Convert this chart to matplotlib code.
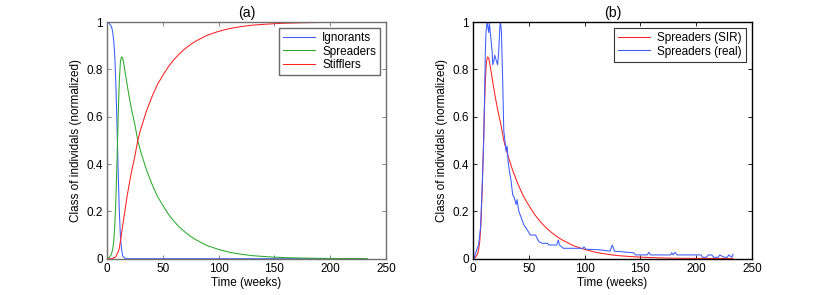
import matplotlib
matplotlib.use("Agg")
import matplotlib.pyplot as plt
from matplotlib.ticker import FuncFormatter

# ---- data ----
# SIR model (panel a and red curve of panel b)
t_sir = [0, 2, 4, 5, 6, 7, 8, 9, 10, 11, 12, 13, 14, 16, 18, 20, 22, 25, 27.5,
         30, 35, 40, 45, 50, 55, 60, 65, 70, 75, 80, 90, 100, 110, 120, 130,
         140, 150, 160, 175, 190, 210, 233]
ignorants = [1.0, 0.995, 0.98, 0.96, 0.92, 0.85, 0.72, 0.55, 0.36, 0.2, 0.09,
             0.04, 0.012, 0.002, 0, 0, 0, 0, 0, 0, 0, 0, 0, 0, 0, 0, 0, 0, 0,
             0, 0, 0, 0, 0, 0, 0, 0, 0, 0, 0, 0, 0]
spreaders = [0, 0.005, 0.02, 0.04, 0.075, 0.145, 0.27, 0.43, 0.61, 0.755, 0.835,
             0.853, 0.848, 0.795, 0.735, 0.68, 0.63, 0.565, 0.5, 0.455, 0.38,
             0.318, 0.265, 0.225, 0.188, 0.158, 0.133, 0.112, 0.094, 0.079,
             0.055, 0.039, 0.027, 0.019, 0.013, 0.0095, 0.0066, 0.0046, 0.0027,
             0.0016, 0.0008, 0.0004]
stifflers = [0, 0, 0, 0, 0.005, 0.005, 0.01, 0.02, 0.03, 0.045, 0.075, 0.107,
             0.14, 0.203, 0.265, 0.32, 0.37, 0.435, 0.5, 0.545, 0.62, 0.682,
             0.735, 0.775, 0.812, 0.842, 0.867, 0.888, 0.906, 0.921, 0.945,
             0.961, 0.973, 0.981, 0.987, 0.9905, 0.9934, 0.9954, 0.9973,
             0.9984, 0.9992, 0.9996]

# observed spreaders (panel b, blue)
t_real = [0, 0.6, 2.7, 5, 6.6, 8, 9.6, 11, 11.6, 12.5, 14, 14.6, 15.5, 17, 17.6,
          18.5, 19.4, 20.6, 22, 23, 24, 24.5, 25.4, 26.6, 27.5, 29, 29.6, 30.5,
          31.4, 32.6, 34, 35.5, 37, 38.5, 39.4, 41, 43.3, 45.4, 48.4, 51.4, 56,
          59, 62, 66.7, 68, 75, 76.4, 77.4, 81, 87, 92, 98.5, 99.4, 101, 112.6,
          122.7, 124.8, 126.7, 144, 145.5, 156, 157.6, 159, 177, 178, 179.4,
          181, 182.7, 204.5, 205.5, 209, 211, 214, 215.5, 219.7, 221, 225,
          228, 229, 232, 233]
spreaders_real = [0, 0, 0.03, 0.06, 0.13, 0.285, 0.51, 0.88, 0.96, 1.0, 0.956,
                  1.0, 0.95, 0.88, 0.82, 0.835, 0.86, 0.84, 0.82, 0.88, 0.98,
                  1.0, 0.96, 0.74, 0.54, 0.48, 0.455, 0.476, 0.41, 0.37, 0.33,
                  0.27, 0.257, 0.229, 0.25, 0.2, 0.172, 0.144, 0.123, 0.10, 0.1,
                  0.072, 0.065, 0.065, 0.058, 0.058, 0.079, 0.058, 0.044, 0.044,
                  0.044, 0.044, 0.05, 0.04, 0.038, 0.032, 0.058, 0.032, 0.025,
                  0.016, 0.016, 0.027, 0.016, 0.016, 0.025, 0.016, 0.027, 0.016,
                  0.016, 0.006, 0.006, 0.016, 0.016, 0.006, 0.006, 0.016, 0.006,
                  0.006, 0.016, 0.006, 0.019]

plt.rcParams['font.family'] = ['Liberation Sans', 'DejaVu Sans']
plt.rcParams['font.size'] = 8.5

BLUE = '#3a5cff'
GREEN = '#2aaa2a'
RED = '#ff2020'


def style_axes(ax, frame_color):
    ax.set_xlim(0, 250)
    ax.set_ylim(0, 1)
    ax.set_xticks([0, 50, 100, 150, 200, 250])
    ax.set_yticks([0, 0.2, 0.4, 0.6, 0.8, 1])
    ax.yaxis.set_major_formatter(FuncFormatter(lambda v, p: '%g' % v))
    ax.tick_params(direction='in', top=True, right=True, length=3,
                   width=0.6, color=frame_color, labelsize=8.5, pad=3)
    for s in ax.spines.values():
        s.set_color(frame_color)
        s.set_linewidth(1.0)
    ax.set_xlabel("Time (weeks)", labelpad=1.5)
    ax.set_ylabel("Class of individals (normalized)", labelpad=3)


def add_legend(ax, edge, lw):
    leg = ax.legend(loc='upper right', fancybox=False, borderaxespad=0.5,
                    handlelength=2.7, handletextpad=0.6, labelspacing=0.12,
                    borderpad=0.35, fontsize=8.5)
    leg.get_frame().set_edgecolor(edge)
    leg.get_frame().set_linewidth(lw)
    return leg


fig = plt.figure(figsize=(8.3, 2.95), dpi=100)
ax1 = fig.add_axes([0.129, 0.123, 0.336, 0.802])
ax2 = fig.add_axes([0.570, 0.123, 0.336, 0.802])

# (a) SIR model
ax1.plot(t_sir, ignorants, color=BLUE, lw=0.75, label='Ignorants')
ax1.plot(t_sir, spreaders, color=GREEN, lw=0.75, label='Spreaders')
ax1.plot(t_sir, stifflers, color=RED, lw=0.75, label='Stifflers')
style_axes(ax1, '#707070')
ax1.set_title("(a)", pad=4)
add_legend(ax1, '#444444', 1.0)

# (b) model vs real data
ax2.plot(t_sir, spreaders, color=RED, lw=0.75, label='Spreaders (SIR)')
ax2.plot(t_real, spreaders_real, color=BLUE, lw=0.75, label='Spreaders (real)')
style_axes(ax2, 'black')
ax2.set_title("(b)", pad=4)
add_legend(ax2, 'black', 0.8)

fig.savefig("out.png", dpi=100)
